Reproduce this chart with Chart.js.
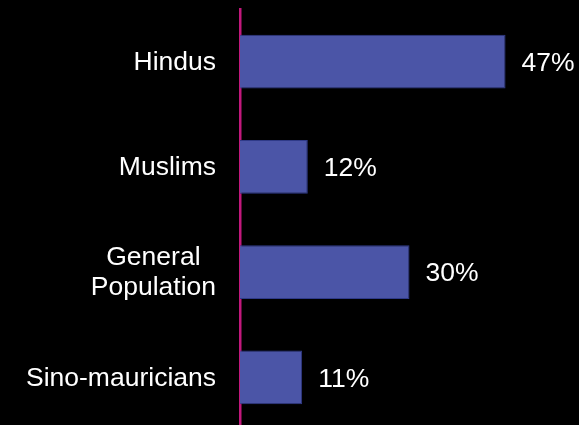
<!DOCTYPE html>
<html>
<head>
<meta charset="utf-8">
<style>
  html, body { margin: 0; padding: 0; background: #000; overflow: hidden; }
  #wrap { position: relative; width: 579px; height: 430px; }
</style>
<script src="https://cdn.jsdelivr.net/npm/chart.js@4/dist/chart.umd.min.js"></script>
</head>
<body>
<div id="wrap"><canvas id="chart"></canvas></div>
<script>
// Share of each community (percent)
const categories = ['Hindus', 'Muslims', ['General', 'Population'], 'Sino-mauricians'];
const shares = [47, 12, 30, 11];
const axisMax = 60;

const FONT = { family: 'Liberation Sans, Arial, sans-serif', size: 26.5 };
const FONT_CSS = FONT.size + 'px ' + FONT.family;
const LINE_GAP = 30;

// Category names: each block sits flush against the axis, and the lines
// of a multi-line name are centred on one another.
const categoryLabels = {
  id: 'categoryLabels',
  afterDraw(chart) {
    const ctx = chart.ctx;
    const y = chart.scales.y;
    const right = y.right - 24;
    ctx.save();
    ctx.fillStyle = '#ffffff';
    ctx.font = FONT_CSS;
    ctx.textAlign = 'center';
    ctx.textBaseline = 'middle';
    y.ticks.forEach((tick, i) => {
      const raw = chart.data.labels[tick.value];
      const lines = Array.isArray(raw) ? raw : [raw];
      const widest = Math.max(...lines.map(l => ctx.measureText(l).width));
      const cx = right - widest / 2;
      const cy = y.getPixelForTick(i) + 1;
      const top = cy - (lines.length - 1) * LINE_GAP / 2;
      lines.forEach((line, k) => ctx.fillText(line, cx, top + k * LINE_GAP));
    });
    ctx.restore();
  }
};

// Writes "NN%" just past the end of each bar
const valueLabels = {
  id: 'valueLabels',
  afterDatasetsDraw(chart) {
    const ctx = chart.ctx;
    const meta = chart.getDatasetMeta(0);
    ctx.save();
    ctx.fillStyle = '#ffffff';
    ctx.font = FONT_CSS;
    ctx.textAlign = 'left';
    ctx.textBaseline = 'middle';
    meta.data.forEach((bar, i) => {
      ctx.fillText(shares[i] + '%', bar.x + 16, bar.y + 2);
    });
    ctx.restore();
  }
};

new Chart(document.getElementById('chart'), {
  type: 'bar',
  data: {
    labels: categories,
    datasets: [{
      data: shares,
      backgroundColor: '#4B55A7',
      borderColor: '#2F3A88',
      borderWidth: 1,
      borderSkipped: 'left',
      categoryPercentage: 1,
      barPercentage: 0.513
    }]
  },
  options: {
    indexAxis: 'y',
    responsive: true,
    maintainAspectRatio: false,
    animation: false,
    layout: { padding: { top: 9, right: 0, bottom: 0, left: 0 } },
    plugins: { legend: { display: false }, tooltip: { enabled: false } },
    scales: {
      x: { display: false, min: 0, max: axisMax },
      y: {
        afterFit(scale) {
          scale.width = 240;
          scale.paddingTop = 0;
          scale.paddingBottom = 0;
        },
        grid: { display: false, drawTicks: false },
        border: { display: true, color: '#C2187C', width: 2.5 },
        ticks: { display: false }
      }
    }
  },
  plugins: [valueLabels, categoryLabels]
});
</script>
</body>
</html>
